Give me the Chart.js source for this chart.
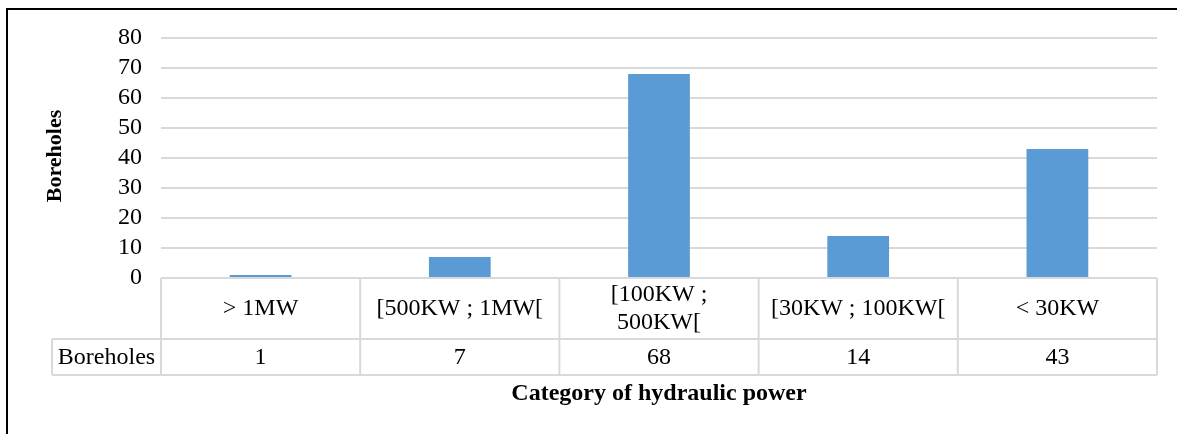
<!DOCTYPE html>
<html lang="en">
<head>
    <meta charset="UTF-8">
    <title>Category of hydraulic power</title>
    <script src="https://cdn.jsdelivr.net/npm/chart.js"></script>
    <style>
        body {
            margin: 0;
            background: #fff;
            overflow: hidden;
        }

        #frame {
            position: absolute;
            left: 6px;
            top: 8px;
            width: 1200px;
            height: 440px;
            border: 2px solid #000;
            box-sizing: border-box;
            pointer-events: none;
        }

        canvas {
            position: absolute;
            left: 0;
            top: 0;
        }
    </style>
</head>
<body>
    <canvas id="boreholesChart" width="1177" height="434"></canvas>
    <div id="frame"></div>

    <script>
        // data
        const categories = ['> 1MW', '[500KW ; 1MW[', ['[100KW ;', '500KW['], '[30KW ; 100KW[', '< 30KW'];
        const boreholes = [1, 7, 68, 14, 43];
        const seriesName = 'Boreholes';
        const yTitle = 'Boreholes';
        const xTitle = 'Category of hydraulic power';

        const serif = '"Liberation Serif", "Times New Roman", serif';
        const gridColor = '#d9d9d9';

        // draws the data table under the plot, the axis title and the y title
        const dataTable = {
            id: 'dataTable',
            afterDraw(chart) {
                const ctx = chart.ctx;
                const area = chart.chartArea;
                const xs = chart.scales.x;
                const n = categories.length;
                const step = (area.right - area.left) / n;
                const row1Top = area.bottom;
                const row1Bottom = area.bottom + 61;
                const row2Bottom = row1Bottom + 36;
                const headLeft = 52;

                ctx.save();
                ctx.strokeStyle = gridColor;
                ctx.lineWidth = 2;
                ctx.beginPath();
                // horizontal lines
                ctx.moveTo(area.left, row1Top); ctx.lineTo(area.right, row1Top);
                ctx.moveTo(headLeft, row1Bottom); ctx.lineTo(area.right, row1Bottom);
                ctx.moveTo(headLeft, row2Bottom); ctx.lineTo(area.right, row2Bottom);
                // vertical lines
                for (let i = 0; i <= n; i++) {
                    const x = area.left + i * step;
                    ctx.moveTo(x, row1Top); ctx.lineTo(x, row2Bottom);
                }
                ctx.moveTo(headLeft, row1Bottom); ctx.lineTo(headLeft, row2Bottom);
                ctx.stroke();

                ctx.fillStyle = '#000';
                ctx.font = '24px ' + serif;
                ctx.textAlign = 'center';
                ctx.textBaseline = 'middle';
                const lineH = 28;
                const mid1 = (row1Top + row1Bottom) / 2;
                const mid2 = (row1Bottom + row2Bottom) / 2;
                categories.forEach((label, i) => {
                    const cx = xs.getPixelForValue(i);
                    const lines = Array.isArray(label) ? label : [label];
                    const y0 = mid1 - (lines.length - 1) * lineH / 2;
                    lines.forEach((ln, j) => ctx.fillText(ln, cx, y0 + j * lineH));
                    ctx.fillText(String(boreholes[i]), cx, mid2 + 1);
                });
                ctx.fillText(seriesName, (headLeft + area.left) / 2, mid2 + 1);

                // x axis title
                ctx.font = 'bold 24px ' + serif;
                ctx.fillText(xTitle, (area.left + area.right) / 2, row2Bottom + 19);

                // y axis title
                ctx.translate(55, (area.top + area.bottom) / 2 - 2);
                ctx.rotate(-Math.PI / 2);
                ctx.font = 'bold 22px ' + serif;
                ctx.fillText(yTitle, 0, 0);
                ctx.restore();
            }
        };

        const ctx = document.getElementById('boreholesChart').getContext('2d');
        const chart = new Chart(ctx, {
            type: 'bar',
            data: {
                labels: categories,
                datasets: [{
                    label: seriesName,
                    data: boreholes,
                    backgroundColor: '#5b9bd5',
                    borderWidth: 0,
                    categoryPercentage: 1,
                    barPercentage: 0.31
                }]
            },
            options: {
                responsive: false,
                animation: false,
                layout: {
                    padding: { top: 38, bottom: 156, right: 20, left: 0 }
                },
                plugins: {
                    legend: { display: false },
                    tooltip: { enabled: false }
                },
                scales: {
                    x: {
                        display: false
                    },
                    y: {
                        min: 0,
                        max: 80,
                        ticks: {
                            stepSize: 10,
                            autoSkip: false,
                            padding: 19,
                            color: '#000',
                            font: { family: serif, size: 24 }
                        },
                        grid: {
                            color: gridColor,
                            lineWidth: 2,
                            drawTicks: false
                        },
                        border: { display: false },
                        afterFit(scale) {
                            scale.width = 161;
                        }
                    }
                }
            },
            plugins: [dataTable]
        });
    </script>
</body>
</html>
